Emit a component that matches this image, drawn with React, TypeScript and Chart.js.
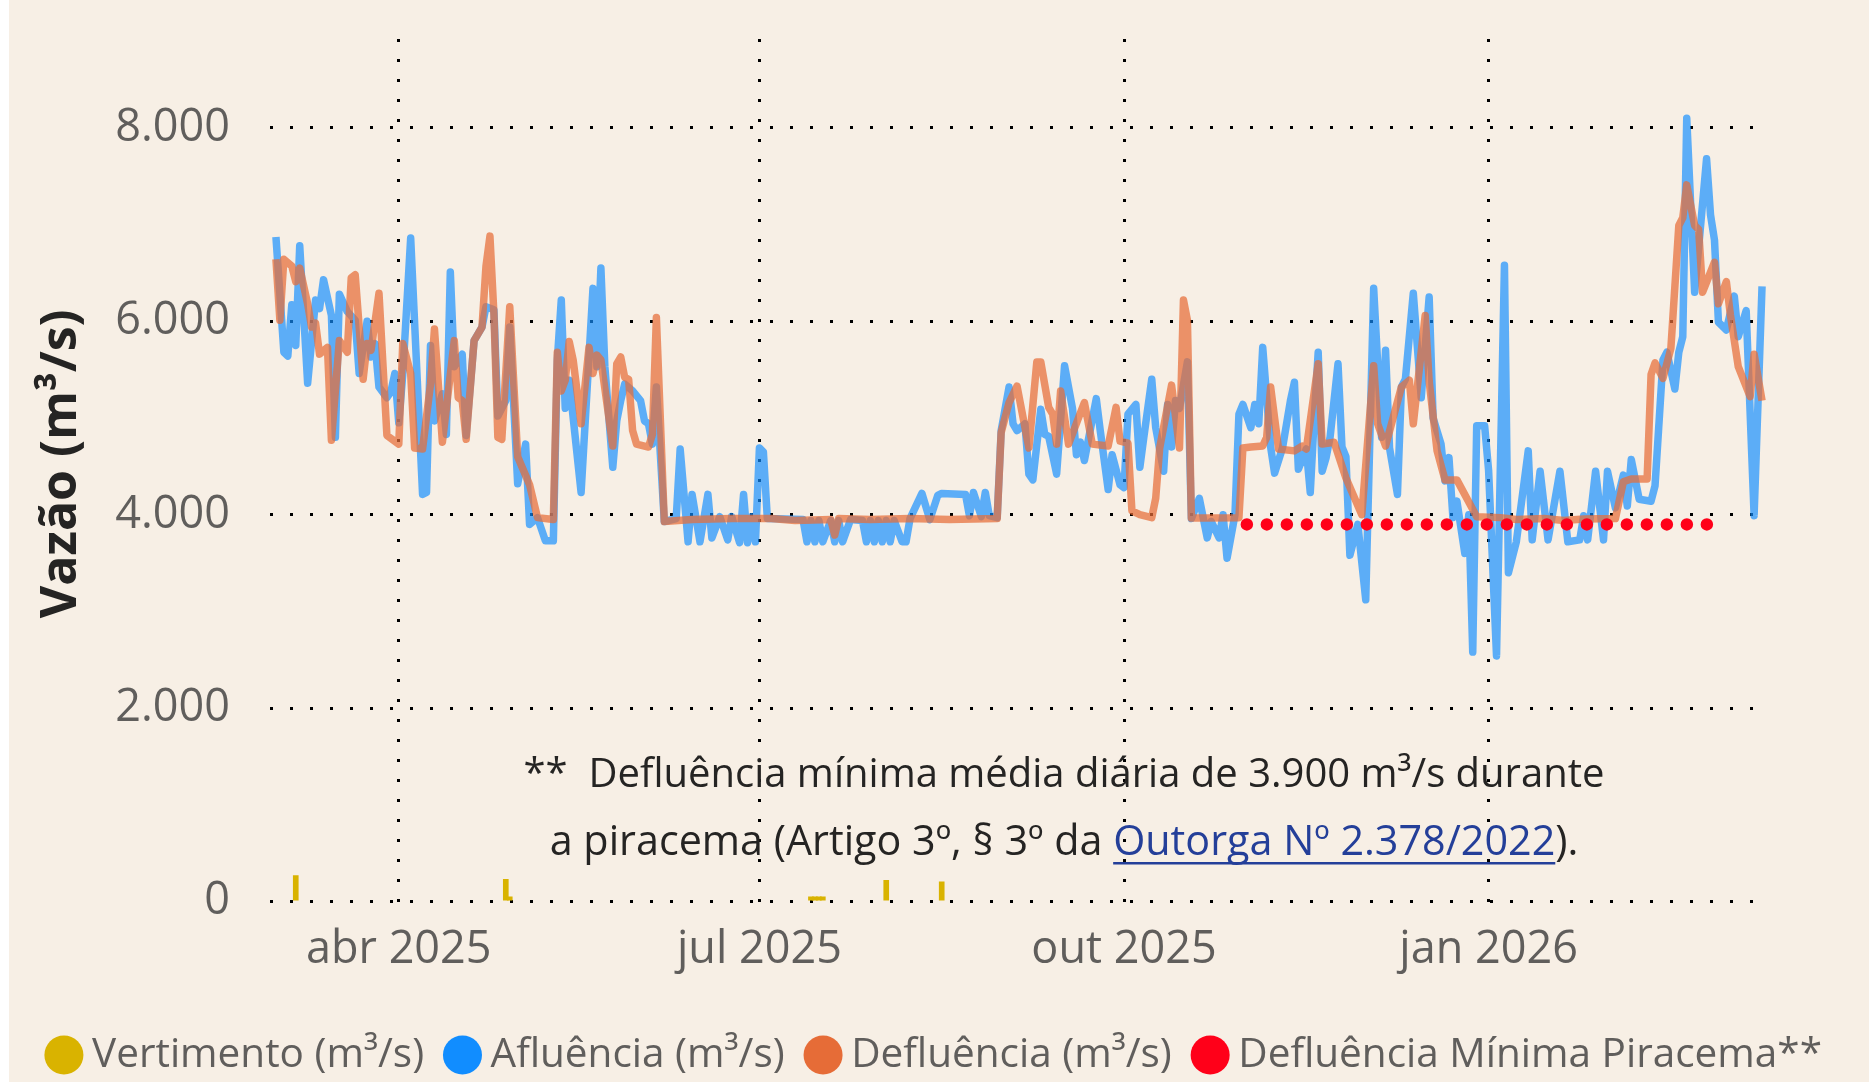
import React, { useEffect, useRef } from 'react';
import { Chart, registerables } from 'chart.js';

Chart.register(...registerables);

// Day 0 = 01/03/2025 (one point per day)
const inicioSerie = '2025-03-01';

const ticksDias = [31, 122, 214, 306];
const ticksRotulos = ['abr 2025', 'jul 2025', 'out 2025', 'jan 2026'];
const eixoYTicks = [0, 2000, 4000, 6000, 8000];

const rotulosSeries = [
  'Vertimento (m³/s)',
  'Afluência (m³/s)',
  'Defluência (m³/s)',
  'Defluência Mínima Piracema**',
];

// [day, m³/s]
const vertimento: [number, number][] = [
  [5, 270], [58, 230], [59, 50], [135, 50], [136, 50], [137, 50], [138, 50], [154, 220], [168, 205],
];

const afluencia: [number, number][] = [
  [0, 6870], [2, 5680], [3, 5640], [4, 6170], [5, 5750], [6, 6780], [8, 5360], [10, 6220], [11, 6130],
  [12, 6430], [14, 6060], [15, 4800], [16, 6280], [18, 6100], [20, 6010], [21, 5460], [23, 6000],
  [24, 5630], [25, 5770], [26, 5320], [28, 5210], [29, 5270], [30, 5460], [31, 4950], [32, 5450],
  [34, 6860], [37, 4210], [38, 4230], [39, 5750], [40, 4970], [42, 5250], [43, 4830], [44, 6510],
  [45, 5530], [47, 5660], [48, 4820], [50, 5800], [52, 5940], [53, 6150], [55, 6120], [56, 5020],
  [58, 5180], [59, 5940], [61, 4320], [63, 4730], [64, 3900], [66, 3970], [68, 3730], [70, 3730],
  [71, 5600], [72, 6220], [73, 5100], [74, 5390], [77, 4230], [80, 6340], [81, 5530], [82, 6550],
  [83, 5530], [85, 4490], [86, 4970], [87, 5180], [88, 5350], [90, 5280], [92, 5180], [93, 4970],
  [94, 4940], [95, 4730], [96, 5320], [98, 3930], [101, 3960], [102, 4680], [104, 3720], [105, 4210],
  [107, 3720], [109, 4210], [110, 3760], [112, 3980], [114, 3740], [115, 3980], [117, 3710], [118, 4210],
  [119, 3710], [120, 3980], [121, 3720], [122, 4690], [123, 4650], [124, 3960], [133, 3950], [134, 3720],
  [135, 3940], [136, 3720], [137, 3940], [138, 3720], [140, 3940], [141, 3720], [142, 3940], [143, 3720],
  [145, 3950], [148, 3940], [149, 3720], [150, 3940], [151, 3720], [152, 3940], [153, 3720], [154, 3940],
  [155, 3720], [156, 3940], [158, 3720], [159, 3720], [160, 3960], [163, 4220], [165, 3950], [167, 4200],
  [168, 4220], [174, 4210], [175, 3990], [176, 4230], [178, 3980], [179, 4230], [180, 3990], [182, 3970],
  [183, 4870], [185, 5320], [186, 4940], [187, 4870], [189, 4940], [190, 4420], [191, 4360], [193, 5090],
  [194, 4830], [195, 4810], [197, 4420], [199, 5540], [201, 5100], [202, 4620], [203, 4750], [204, 4560],
  [207, 5200], [208, 4870], [210, 4260], [211, 4620], [213, 4310], [214, 4280], [215, 5040], [217, 5140],
  [218, 4490], [219, 4800], [221, 5400], [222, 4900], [224, 4450], [225, 5140], [226, 4700], [227, 5180],
  [228, 5100], [230, 5580], [231, 3960], [233, 4170], [235, 3760], [236, 3930], [238, 3760], [239, 4000],
  [240, 3550], [242, 4000], [243, 5040], [244, 5140], [246, 4900], [247, 5140], [248, 4940], [249, 5730],
  [251, 4700], [252, 4430], [254, 4690], [256, 5180], [257, 5370], [258, 4470], [260, 4680], [261, 4230],
  [262, 5000], [263, 5680], [264, 4450], [265, 4590], [266, 4800], [268, 5560], [269, 4700], [270, 4600],
  [271, 3580], [273, 3900], [275, 3120], [277, 6340], [279, 4800], [280, 5700], [281, 4690], [283, 4210],
  [284, 5320], [285, 5400], [287, 6290], [289, 5210], [291, 6250], [292, 5000], [294, 4730], [295, 4350],
  [296, 4590], [297, 3970], [298, 4140], [300, 3600], [301, 4000], [302, 2580], [303, 4920], [305, 4920],
  [306, 4460], [308, 2540], [310, 6580], [311, 3400], [313, 3720], [316, 4660], [317, 3740], [319, 4450],
  [321, 3740], [324, 4450], [326, 3720], [329, 3740], [330, 3990], [331, 3740], [333, 4450], [335, 3740],
  [336, 4450], [338, 4070], [340, 4410], [341, 4090], [342, 4570], [344, 4160], [347, 4140], [348, 4300],
  [350, 5600], [351, 5680], [353, 5300], [354, 5680], [355, 5840], [356, 8100], [358, 6300], [361, 7680],
  [362, 7100], [363, 6840], [364, 5990], [366, 5910], [368, 6260], [369, 5840], [371, 6110], [373, 3990],
  [375, 6360],
];

const defluencia: [number, number][] = [
  [0, 6640], [1, 6010], [2, 6640], [4, 6570], [5, 6410], [6, 6550], [8, 6180], [9, 5940], [10, 5980],
  [11, 5660], [13, 5730], [14, 4770], [16, 5800], [18, 5680], [19, 6450], [20, 6480], [22, 5400],
  [23, 5770], [24, 5700], [26, 6290], [28, 4820], [31, 4730], [32, 5770], [34, 5460], [35, 4690],
  [37, 4680], [39, 5350], [40, 5920], [42, 4750], [45, 5800], [46, 5210], [47, 5180], [48, 4780],
  [50, 5800], [52, 5940], [53, 6570], [54, 6880], [55, 6080], [56, 4800], [57, 4780], [59, 6150],
  [61, 4600], [64, 4310], [66, 3970], [70, 3950], [71, 5680], [72, 5280], [73, 5390], [74, 5790],
  [75, 5600], [77, 4940], [79, 5730], [80, 5460], [81, 5650], [82, 5600], [85, 4710], [86, 5560],
  [87, 5630], [88, 5420], [89, 5400], [90, 4870], [91, 4730], [93, 4710], [94, 4700], [95, 4830],
  [96, 6040], [98, 3930], [105, 3950], [115, 3960], [125, 3960], [131, 3940], [140, 3950], [141, 3790],
  [142, 3960], [150, 3950], [160, 3960], [170, 3950], [182, 3960], [183, 4850], [185, 5160], [187, 5330],
  [190, 4690], [192, 5580], [193, 5580], [195, 5110], [196, 5040], [197, 4730], [198, 5280], [200, 4730],
  [204, 5160], [206, 4730], [210, 4710], [212, 5110], [213, 4760], [215, 4740], [216, 4040], [218, 4000],
  [221, 3970], [222, 4170], [223, 4690], [226, 5340], [228, 4690], [229, 6220], [230, 6010], [231, 3965],
  [233, 3965], [243, 3970], [244, 4690], [246, 4700], [249, 4710], [250, 4800], [251, 5320], [253, 4680],
  [257, 4660], [259, 4710], [260, 4680], [263, 5560], [264, 4730], [267, 4750], [270, 4380], [274, 4000],
  [277, 5540], [278, 4940], [280, 4710], [284, 5320], [286, 5390], [287, 4940], [290, 6060], [291, 5380],
  [293, 4660], [295, 4360], [298, 4360], [303, 3980], [309, 3970], [313, 3950], [320, 3960], [325, 3940],
  [330, 3955], [338, 3960], [340, 4340], [342, 4370], [346, 4370], [347, 5450], [348, 5570], [350, 5410],
  [352, 5720], [354, 6990], [355, 7070], [356, 7410], [358, 6990], [359, 6950], [360, 6300], [363, 6610],
  [364, 6180], [366, 6410], [367, 6070], [369, 5530], [372, 5220], [373, 5660], [375, 5180],
];

// Piracema: 01/11/2025 (day 245) to 28/02/2026 (day 364)
const piracema: [number, number][] = [[245, 3900], [364, 3900]];

const notaLinha1 = '**  Defluência mínima média diária de 3.900 m³/s durante';
const notaLinha2Inicio = 'a piracema (Artigo 3º, § 3º da ';
const notaLink = 'Outorga Nº 2.378/2022';
const notaLinha2Fim = ').';

const FONTE = '"Open Sans", "Noto Sans", sans-serif';
const CORES = ['#D9B300', '#118DFF', '#E66C37', '#FF0019'];
const CINZA = '#605E5C';
const ESCURO = '#252423';

const fmt = (v: number) => String(Math.round(v)).replace(/\B(?=(\d{3})+(?!\d))/g, '.');
const pts = (arr: [number, number][]) => arr.map(([x, y]) => ({ x, y }));

const notaPlugin = {
  id: 'notaPiracema',
  beforeDatasetsDraw(chart: any) {
    const ctx = chart.ctx as CanvasRenderingContext2D;
    ctx.save();
    ctx.textBaseline = 'alphabetic';
    ctx.textAlign = 'left';
    const cx = 1055;
    ctx.fillStyle = ESCURO;
    ctx.font = `40px ${FONTE}`;
    const w1 = ctx.measureText(notaLinha1).width;
    ctx.fillText(notaLinha1, cx - w1 / 2, 787);
    ctx.font = `41.3px ${FONTE}`;
    const wa = ctx.measureText(notaLinha2Inicio).width;
    const wb = ctx.measureText(notaLink).width;
    const wc = ctx.measureText(notaLinha2Fim).width;
    let x = cx - (wa + wb + wc) / 2;
    const y2 = 855;
    ctx.fillText(notaLinha2Inicio, x, y2);
    x += wa;
    ctx.fillStyle = '#243F99';
    ctx.fillText(notaLink, x, y2);
    ctx.fillRect(x, y2 + 7, wb, 2.5);
    x += wb;
    ctx.fillStyle = ESCURO;
    ctx.fillText(notaLinha2Fim, x, y2);
    ctx.restore();
  },
};

export default function App() {
  const ref = useRef<HTMLCanvasElement>(null);

  useEffect(() => {
    const canvas = ref.current;
    if (!canvas) return;
    const chart = new Chart(canvas, {
      type: 'line',
      data: {
        datasets: [
          {
            type: 'bar',
            label: rotulosSeries[0],
            data: pts(vertimento),
            backgroundColor: CORES[0],
            borderWidth: 0,
            barThickness: 5,
            order: 3,
          } as any,
          {
            label: rotulosSeries[1],
            data: pts(afluencia),
            borderColor: 'rgba(17,141,255,0.68)',
            backgroundColor: CORES[1],
            borderWidth: 7.5,
            pointRadius: 0,
            tension: 0,
            borderJoinStyle: 'round',
            order: 2,
          },
          {
            label: rotulosSeries[2],
            data: pts(defluencia),
            borderColor: 'rgba(230,108,55,0.72)',
            backgroundColor: CORES[2],
            borderWidth: 7.5,
            pointRadius: 0,
            tension: 0,
            borderJoinStyle: 'round',
            order: 1,
          },
          {
            label: rotulosSeries[3],
            data: pts(piracema),
            borderColor: CORES[3],
            backgroundColor: CORES[3],
            borderWidth: 12.5,
            borderDash: [0, 20],
            borderCapStyle: 'round',
            pointRadius: 0,
            order: 0,
          },
        ],
      },
      options: {
        animation: false,
        responsive: false,
        devicePixelRatio: 1,
        events: [],
        layout: { padding: { top: 39, right: 0, bottom: -3.25, left: 0 } },
        scales: {
          x: {
            type: 'linear',
            min: -1.5,
            max: 376,
            offset: false,
            afterBuildTicks: (scale: any) => {
              scale.ticks = ticksDias.map((v) => ({ value: v }));
            },
            afterFit: (scale: any) => {
              scale.height = 102.6;
              scale.paddingLeft = 0;
              scale.paddingRight = 0;
            },
            ticks: {
              autoSkip: false,
              maxRotation: 0,
              padding: 22,
              color: CINZA,
              font: { family: FONTE, size: 45 },
              callback: (v: any) => {
                const i = ticksDias.indexOf(Number(v));
                return i >= 0 ? ticksRotulos[i] : '';
              },
            },
            grid: { color: '#000', lineWidth: 3, drawTicks: false, offset: false },
            border: { display: false, dash: [3, 17] },
          },
          y: {
            type: 'linear',
            min: 0,
            max: 8918,
            afterBuildTicks: (scale: any) => {
              scale.ticks = eixoYTicks.map((v) => ({ value: v }));
            },
            afterFit: (scale: any) => {
              scale.width = 261;
              scale.paddingTop = 0;
              scale.paddingBottom = 0;
            },
            ticks: {
              padding: 40,
              color: CINZA,
              font: { family: FONTE, size: 45 },
              callback: (v: any) => fmt(Number(v)),
            },
            title: {
              display: true,
              text: ' Vazão (m³/s)',
              color: ESCURO,
              font: { family: FONTE, size: 50, weight: 'bold' },
              padding: { top: 23, bottom: 0 },
            },
            grid: { color: '#000', lineWidth: 3, drawTicks: false },
            border: { display: false, dash: [3, 17] },
          },
          margemDireita: {
            type: 'linear',
            position: 'right',
            display: true,
            afterFit: (scale: any) => {
              scale.width = 103;
              scale.paddingTop = 0;
              scale.paddingBottom = 0;
            },
            ticks: { display: false },
            grid: { display: false, drawOnChartArea: false },
            border: { display: false },
          },
        },
        plugins: {
          tooltip: { enabled: false },
          legend: {
            position: 'bottom',
            align: 'center',
            labels: {
              usePointStyle: true,
              boxWidth: 15.7,
              boxHeight: 27.6,
              padding: 30.5,
              color: CINZA,
              font: { family: FONTE, size: 40.5 },
              generateLabels: (c: any) =>
                c.data.datasets.map((ds: any, i: number) => ({
                  text: ds.label,
                  fillStyle: CORES[i],
                  strokeStyle: CORES[i],
                  lineWidth: 0,
                  pointStyle: 'circle',
                  hidden: false,
                  datasetIndex: i,
                  fontColor: CINZA,
                })),
            },
          },
        },
      } as any,
      plugins: [notaPlugin],
    });
    return () => chart.destroy();
  }, []);

  return (
    <div
      data-inicio={inicioSerie}
      style={{ position: 'absolute', left: 9, top: 0, width: 1860, height: 1082, background: '#F7EFE5' }}
    >
      <canvas ref={ref} width={1860} height={1082} style={{ display: 'block', width: 1860, height: 1082 }} />
    </div>
  );
}
